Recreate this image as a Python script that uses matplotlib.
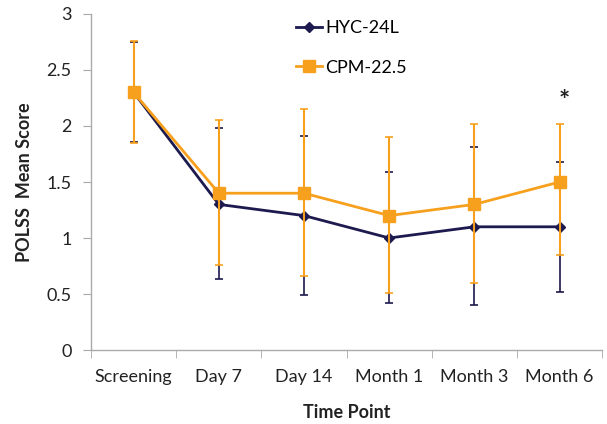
import matplotlib
matplotlib.use("Agg")
import matplotlib.pyplot as plt
from matplotlib.lines import Line2D
import numpy as np

categories = ["Screening", "Day 7", "Day 14", "Month 1", "Month 3", "Month 6"]
hyc_mean = [2.3, 1.3, 1.2, 1.0, 1.1, 1.1]
hyc_upper = [2.75, 1.98, 1.91, 1.59, 1.81, 1.68]
hyc_lower = [1.86, 0.63, 0.49, 0.42, 0.40, 0.52]
cpm_mean = [2.3, 1.4, 1.4, 1.2, 1.3, 1.5]
cpm_upper = [2.76, 2.05, 2.15, 1.90, 2.02, 2.02]
cpm_lower = [1.85, 0.76, 0.66, 0.51, 0.60, 0.85]

plt.rcParams['font.family'] = ['Lato', 'DejaVu Sans']

navy = "#1c1a4e"
orange = "#f7a01e"

fig = plt.figure(figsize=(6.07, 4.24), dpi=100)
ax = fig.add_axes([0.150, 0.1745, 0.842, 0.7925])

x = np.arange(len(categories))
hm = np.array(hyc_mean); cm = np.array(cpm_mean)
hyc_err = [hm - np.array(hyc_lower), np.array(hyc_upper) - hm]
cpm_err = [cm - np.array(cpm_lower), np.array(cpm_upper) - cm]

ax.errorbar(x, hm, yerr=hyc_err, color=navy, lw=2, marker='D', ms=5,
            ecolor=navy, elinewidth=1.2, capsize=3, capthick=1.2, zorder=2)
ax.errorbar(x, cm, yerr=cpm_err, color=orange, lw=2, marker='s', ms=8,
            ecolor=orange, elinewidth=1.5, capsize=3, capthick=1.2, zorder=3)

ax.text(x[-1] + 0.05, 2.22, "*", ha='center', va='center', fontsize=19,
        fontweight='bold', color='#222222')

ax.set_xlim(-0.5, len(categories) - 0.5)
ax.set_ylim(0, 3)
ax.set_yticks(np.arange(0, 3.01, 0.5))
ax.set_yticklabels(["0", "0.5", "1", "1.5", "2", "2.5", "3"])
ax.set_xticks(x)
ax.set_xticklabels(categories)
ax.set_xticks(np.arange(-0.5, len(categories), 1.0), minor=True)
ax.tick_params(axis='x', which='major', length=0, pad=14, labelsize=13, colors='#222222')
ax.tick_params(axis='x', which='minor', length=6, color='#aaaaaa', direction='out')
ax.tick_params(axis='y', length=6, color='#aaaaaa', labelsize=13, pad=8, labelcolor='#222222')

for s in ['top', 'right']:
    ax.spines[s].set_visible(False)
for s in ['left', 'bottom']:
    ax.spines[s].set_color('#aaaaaa')
    ax.spines[s].set_linewidth(1.0)

ax.set_ylabel("POLSS  Mean Score", fontsize=13, fontweight='bold', color='#222222', labelpad=10)
ax.set_xlabel("Time Point", fontsize=13, fontweight='bold', color='#222222', labelpad=13)

handles = [Line2D([], [], color=navy, lw=2, marker='D', ms=5),
           Line2D([], [], color=orange, lw=2, marker='s', ms=8)]
ax.legend(handles, ["HYC-24L", "CPM-22.5"], loc='upper left',
          bbox_to_anchor=(0.37, 1.03), frameon=False,
          fontsize=13, handlelength=1.4, handletextpad=0.2, labelspacing=1.3)

fig.savefig("out.png", dpi=100)
